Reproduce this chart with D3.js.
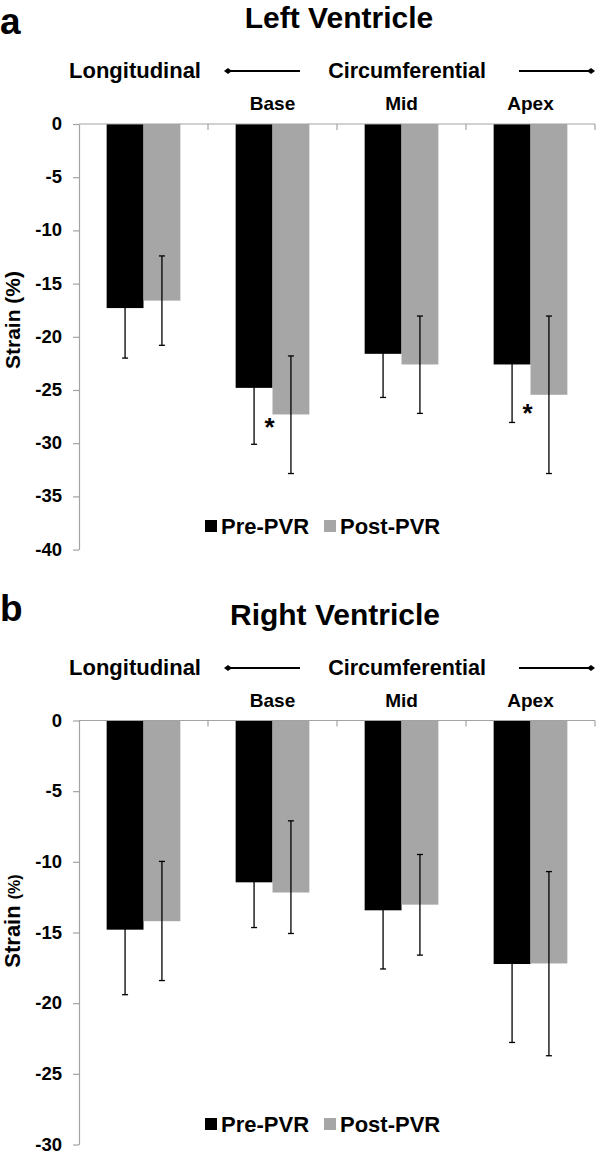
<!DOCTYPE html>
<html><head><meta charset="utf-8">
<script src="https://cdnjs.cloudflare.com/ajax/libs/d3/7.8.5/d3.min.js"></script>
<style>
html,body{margin:0;padding:0;background:#fff;}
svg{display:block;font-family:"Liberation Sans",Arial,Helvetica,sans-serif;font-weight:bold;}
</style></head><body>
<svg id="chart" width="596" height="1154"></svg>
<script>
// ---- data ----
const categories = ["Longitudinal", "Base", "Mid", "Apex"];
const segmentLabels = ["", "Base", "Mid", "Apex"];
const seriesNames = ["Pre-PVR", "Post-PVR"];

const lvPre = [-17.3, -24.8, -21.6, -22.6];
const lvPreErr = [4.7, 5.3, 4.1, 5.45];
const lvPost = [-16.6, -27.3, -22.6, -25.45];
const lvPostErrUp = [4.2, 5.5, 4.55, 7.4];
const lvPostErrDown = [4.2, 5.55, 4.6, 7.4];
const lvTicks = [0, -5, -10, -15, -20, -25, -30, -35, -40];
const lvSigCats = ["Base", "Apex"];
const lvSigValues = [-28.0, -26.7];

const rvPre = [-14.8, -11.45, -13.43, -17.23];
const rvPreErr = [4.6, 3.2, 4.15, 5.55];
const rvPost = [-14.2, -12.17, -13.03, -17.19];
const rvPostErrUp = [4.23, 5.07, 3.55, 6.5];
const rvPostErrDown = [4.2, 2.9, 3.57, 6.53];
const rvTicks = [0, -5, -10, -15, -20, -25, -30];

const colors = {"Pre-PVR": "#000000", "Post-PVR": "#a6a6a6"};
const axisColor = "#a3a3a3";

const svg = d3.select("#chart");

function panel(o) {
  const g = svg.append("g");
  const off = o.offset;
  const x0 = d3.scaleBand().domain(categories).range([79, 595]);
  const x1 = d3.scaleBand().domain(seriesNames).range([0, x0.bandwidth()]).paddingOuter(0.75);
  const y = d3.scaleLinear().domain([d3.min(o.ticks), 0]).range([o.yBottom, o.yTop]);

  // header
  g.append("text").attr("x", 0).attr("y", off + o.letterY).attr("font-size", 37).text(o.letter);
  g.append("text").attr("x", o.titleX).attr("y", off + 27.5).attr("font-size", 30)
    .attr("text-anchor", "middle").text(o.title);
  g.append("text").attr("x", 135).attr("y", off + 78).attr("font-size", 22)
    .attr("text-anchor", "middle").text("Longitudinal");
  g.append("text").attr("x", 407).attr("y", off + 78).attr("font-size", 21.5)
    .attr("text-anchor", "middle").text("Circumferential");
  const ay = off + 71;
  g.append("line").attr("x1", 228).attr("x2", 300).attr("y1", ay).attr("y2", ay)
    .attr("stroke", "#000").attr("stroke-width", 2);
  g.append("path").attr("d", `M224,${ay}L228,${ay-3}L232,${ay}L228,${ay+3}Z`).attr("fill", "#000");
  g.append("line").attr("x1", 519).attr("x2", 591).attr("y1", ay).attr("y2", ay)
    .attr("stroke", "#000").attr("stroke-width", 2);
  g.append("path").attr("d", `M587,${ay}L591,${ay-3}L595,${ay}L591,${ay+3}Z`).attr("fill", "#000");

  g.selectAll("text.seg").data(categories).join("text").attr("class", "seg")
    .attr("x", c => x0(c) + x0.bandwidth() / 2).attr("y", off + 110)
    .attr("font-size", 19).attr("text-anchor", "middle")
    .text((c, i) => segmentLabels[i]);

  // bars
  const rows = [];
  categories.forEach((c, i) => {
    rows.push({c, s: "Pre-PVR", v: o.pre[i], up: o.preUp[i], dn: o.preDn[i]});
    rows.push({c, s: "Post-PVR", v: o.post[i], up: o.postUp[i], dn: o.postDn[i]});
  });
  g.selectAll("rect.bar").data(rows).join("rect").attr("class", "bar")
    .attr("x", d => x0(d.c) + x1(d.s)).attr("width", x1.bandwidth())
    .attr("y", y(0)).attr("height", d => y(d.v) - y(0))
    .attr("fill", d => colors[d.s]);

  // error bars
  const eb = g.selectAll("g.err").data(rows).join("g").attr("class", "err")
    .attr("stroke", "#000").attr("stroke-width", 1.3);
  const cx = d => x0(d.c) + x1(d.s) + x1.bandwidth() / 2;
  eb.append("line").attr("x1", cx).attr("x2", cx)
    .attr("y1", d => y(d.v + d.up)).attr("y2", d => y(d.v - d.dn));
  eb.append("line").attr("x1", d => cx(d) - 3).attr("x2", d => cx(d) + 3)
    .attr("y1", d => y(d.v + d.up)).attr("y2", d => y(d.v + d.up));
  eb.append("line").attr("x1", d => cx(d) - 3).attr("x2", d => cx(d) + 3)
    .attr("y1", d => y(d.v - d.dn)).attr("y2", d => y(d.v - d.dn));

  // y axis
  const yAxis = d3.axisLeft(y).tickValues(o.ticks).tickSize(6).tickSizeOuter(0)
    .tickPadding(11).tickFormat(d => String(d));
  const ya = g.append("g").attr("transform", "translate(79,0)").call(yAxis);
  ya.select(".domain").attr("stroke", axisColor).attr("stroke-width", 1.2);
  ya.selectAll(".tick line").attr("stroke", axisColor).attr("stroke-width", 1.2);
  ya.selectAll(".tick text").attr("font-size", 18.5).attr("dy", "0.3em")
    .attr("font-family", "'Liberation Sans',Arial,sans-serif")
    .attr("font-weight", "bold").attr("fill", "#000");

  // x axis line at zero (top)
  g.append("line").attr("x1", 79).attr("x2", 595).attr("y1", y(0)).attr("y2", y(0))
    .attr("stroke", axisColor).attr("stroke-width", 1.2);
  g.selectAll("line.xt").data(categories).join("line").attr("class", "xt")
    .attr("x1", c => x0(c) + x0.bandwidth()).attr("x2", c => x0(c) + x0.bandwidth())
    .attr("y1", y(0)).attr("y2", y(0) + 6).attr("stroke", axisColor).attr("stroke-width", 1.2);

  // significance
  o.sigCats.forEach((c, i) => {
    g.append("text").attr("x", x0(c) + x0.bandwidth() / 2 - 3).attr("y", y(o.sigValues[i]) + 14)
      .attr("font-size", 26).attr("text-anchor", "middle").text("*");
  });

  // y title
  const yt = g.append("text").attr("transform", `translate(20,${o.yTitleY}) rotate(-90)`)
    .attr("text-anchor", "middle");
  yt.append("tspan").attr("font-size", o.strainSize).text("Strain ");
  yt.append("tspan").attr("font-size", o.pctSize).text("(%)");

  // legend
  const lg = g.append("g").attr("transform", `translate(0,${o.legendY})`);
  const lx = [205, 324];
  seriesNames.forEach((s, i) => {
    lg.append("rect").attr("x", lx[i]).attr("y", -6).attr("width", 12).attr("height", 12).attr("fill", colors[s]);
    lg.append("text").attr("x", lx[i] + 16).attr("y", 8).attr("font-size", 22).text(s);
  });
}

panel({
  offset: 0, letter: "a", letterY: 33.5, title: "Left Ventricle", titleX: 339,
  pre: lvPre, preUp: lvPreErr, preDn: lvPreErr,
  post: lvPost, postUp: lvPostErrUp, postDn: lvPostErrDown,
  ticks: lvTicks, yTop: 124, yBottom: 549.6,
  sigCats: lvSigCats, sigValues: lvSigValues,
  yTitleY: 320, strainSize: 21, pctSize: 21, legendY: 526
});
panel({
  offset: 597, letter: "b", letterY: 23.5, title: "Right Ventricle", titleX: 335,
  pre: rvPre, preUp: rvPreErr, preDn: rvPreErr,
  post: rvPost, postUp: rvPostErrUp, postDn: rvPostErrDown,
  ticks: rvTicks, yTop: 720.5, yBottom: 1144.5,
  sigCats: [], sigValues: [],
  yTitleY: 921, strainSize: 22, pctSize: 16, legendY: 1124
});
</script>
</body></html>
